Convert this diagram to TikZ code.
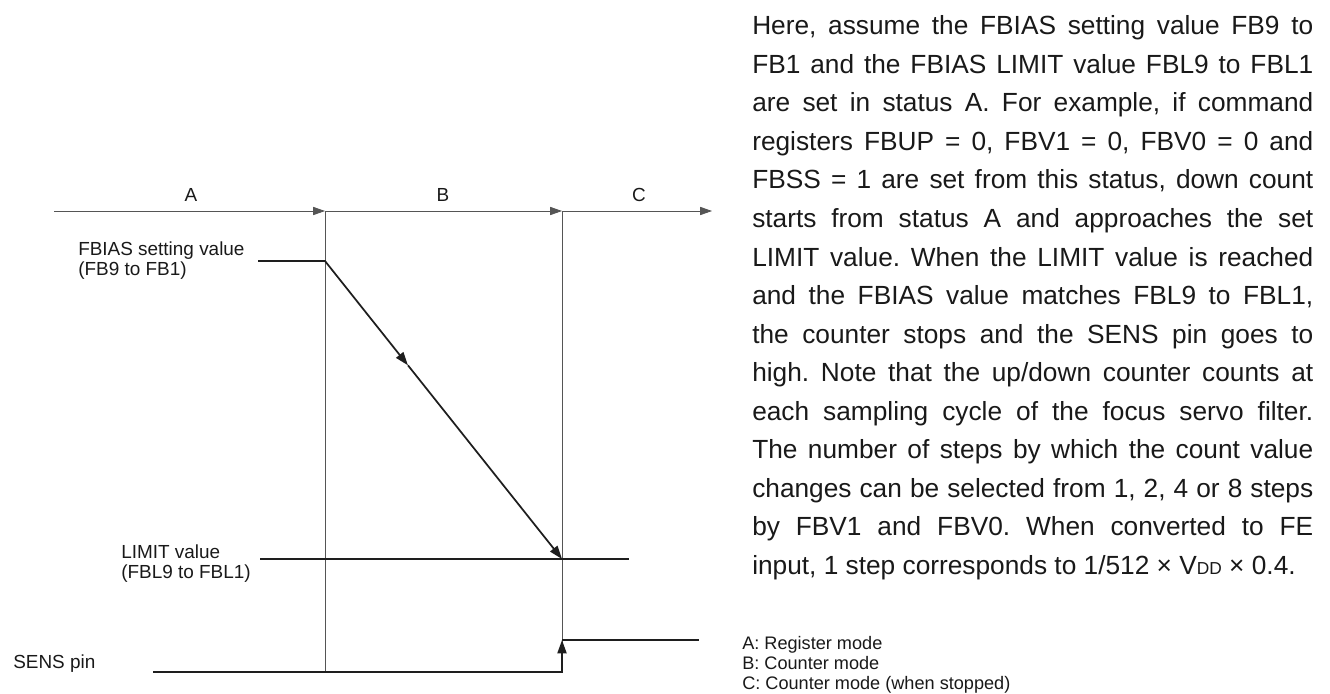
\documentclass[tikz,border=0pt]{standalone}
\usepackage{fontspec}
\setmainfont{Liberation Sans}
\usepackage{tikz}
\usetikzlibrary{arrows.meta, positioning, calc}
\usepackage{xcolor}
\definecolor{sigline}{RGB}{30,30,30}
\definecolor{gridline}{RGB}{85,85,85}
\definecolor{txtdark}{RGB}{25,25,25}
\newcommand{\vdd}{V{\fontsize{13}{13}\selectfont DD}}
\frenchspacing
\tikzset{
    % Time axis
    taxis/.style={-{Triangle[length=9pt, width=6.2pt]}, line width=0.6pt, draw=gridline},
    tlbl/.style={font=\fontsize{14.2}{15}\selectfont, text=txtdark, inner sep=0pt, anchor=base},
    % Phase borders
    tborder/.style={line width=0.6pt, draw=gridline},
    % Signals
    sig/.style={line width=1.3pt, draw=sigline},
    sigarrow/.style={sig, -{Triangle[length=10pt, width=6.8pt]}},
    siglbl/.style={font=\fontsize{14.2}{15}\selectfont, text=txtdark, inner sep=0pt,
                align=left, anchor=north west},
    % Explanation
    notetxt/.style={font=\fontsize{19.7}{28.9}\selectfont, text=txtdark, inner sep=0pt,
                text width=420.75pt, align=justify, anchor=north west},
    legtxt/.style={font=\fontsize{13.6}{15}\selectfont, text=txtdark, inner sep=0pt,
                align=left, anchor=north west},
}

\begin{document}
\begin{tikzpicture}[x=0.75pt, y=-0.75pt]
\useasboundingbox (0,0) rectangle (1330,693);

% Time axis
\coordinate (a0) at (54,211);
\coordinate (t1) at (325,211);
\coordinate (t2) at (562,211);
\coordinate (a3) at (712,211);
\draw[taxis] (a0) -- (t1);
\draw[taxis] (t1) -- (t2);
\draw[taxis] (t2) -- (a3);
\node[tlbl] (lblA) at (191,201.7) {A};
\node[tlbl] (lblB) at (443,201.7) {B};
\node[tlbl] (lblC) at (639,201.7) {C};

% Phase borders
\coordinate (t1b) at (325,672);
\coordinate (t2b) at (562,672);
\draw[tborder] (t1) -- (t1b);
\draw[tborder] (t2) -- (t2b);

% FBIAS count
\coordinate (fb0) at (258,261);
\coordinate (fb1) at (325,261);
\coordinate (lm0) at (260,559);
\coordinate (lm1) at (562,559);
\coordinate (lm2) at (629,559);
\coordinate (dmid) at ($(fb1)!0.35!(lm1)$);
\draw[sigarrow] (fb0) -- (fb1) -- (dmid);
\draw[sigarrow] (dmid) -- (lm1);
\draw[sig] (lm0) -- (lm2);
\node[siglbl] (fbset) at (78,242) {FBIAS setting value\\(FB9 to FB1)};
\node[siglbl] (fblim) at (121,544.5) {LIMIT value\\(FBL9 to FBL1)};

% SENS pin
\coordinate (sn0) at (153,672);
\coordinate (sn2) at (562,640);
\coordinate (sn3) at (699,640);
\draw[sigarrow] (sn0) -- (t2b) -- (sn2);
\draw[sig] (sn2) -- (sn3);
\node[tlbl, anchor=base west] (sens) at (13,668) {SENS pin};

% Explanation
\node[notetxt] (note) at (752,15.5) {\tolerance=9999\hyphenpenalty=10000
Here, assume the FBIAS setting value FB9 to\linebreak
FB1 and the FBIAS LIMIT value FBL9 to FBL1\linebreak
are set in status A. For example, if command\linebreak
registers FBUP = 0, FBV1 = 0, FBV0 = 0 and\linebreak
FBSS = 1 are set from this status, down count\linebreak
starts from status A and approaches the set\linebreak
LIMIT value. When the LIMIT value is reached\linebreak
and the FBIAS value matches FBL9 to FBL1,\linebreak
the counter stops and the SENS pin goes to\linebreak
high. Note that the up/down counter counts at\linebreak
each sampling cycle of the focus servo filter.\linebreak
The number of steps by which the count value\linebreak
changes can be selected from 1, 2, 4 or 8 steps\linebreak
by FBV1 and FBV0. When converted to FE\linebreak
input, 1 step corresponds to 1/512 × \vdd{} × 0.4.};

% Legend
\node[legtxt] (legend) at (742,636) {A: Register mode\\B: Counter mode\\C: Counter mode (when stopped)};

\end{tikzpicture}
\end{document}
